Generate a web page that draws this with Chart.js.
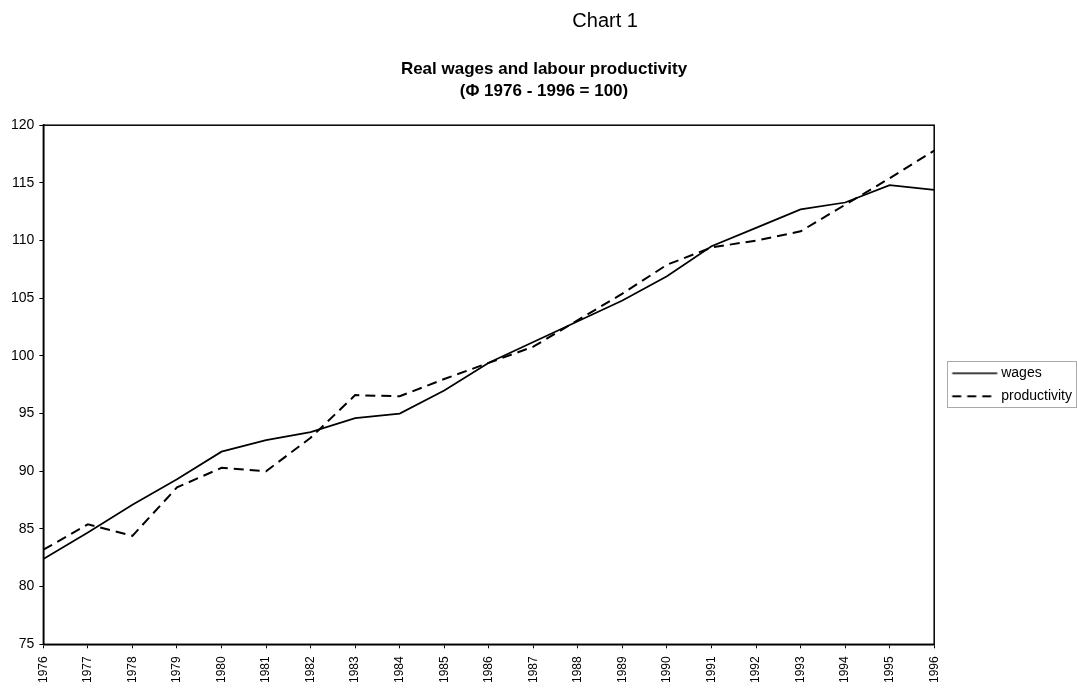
<!DOCTYPE html>
<html>
<head>
<meta charset="utf-8">
<script src="https://cdn.jsdelivr.net/npm/chart.js@4/dist/chart.umd.min.js"></script>
<style>
  html, body { margin: 0; padding: 0; background: #fff; }
  #wrap { width: 1077px; height: 688px; }
</style>
</head>
<body>
<div id="wrap"><canvas id="chart" width="1077" height="688"></canvas></div>
<script>
// values (index, average 1976-1996 = 100)
const years = ["1976", "1977", "1978", "1979", "1980", "1981", "1982", "1983", "1984", "1985", "1986",
  "1987", "1988", "1989", "1990", "1991", "1992", "1993", "1994", "1995", "1996"];
const wages = [82.4, 84.7, 87.1, 89.3, 91.7, 92.7, 93.4, 94.6, 95.0, 97.0, 99.4,
  101.2, 103.0, 104.8, 106.9, 109.5, 111.1, 112.7, 113.3, 114.8, 114.4];
const productivity = [83.2, 85.4, 84.4, 88.6, 90.3, 90.0, 92.9, 96.6, 96.5, 98.0, 99.4,
  100.8, 103.1, 105.4, 107.9, 109.4, 110.0, 110.8, 113.1, 115.4, 117.8];

const FONT = "'Liberation Sans', Arial, sans-serif";
const DASH = [10, 6];

// little legend samples: the line sits right of the image centre
function sample(dash, width) {
  const c = document.createElement("canvas");
  c.width = 80;
  c.height = 6;
  const g = c.getContext("2d");
  g.strokeStyle = "#000";
  g.lineWidth = width;
  g.setLineDash(dash);
  g.beginPath();
  g.moveTo(23.5, 3);
  g.lineTo(68.5, 3);
  g.stroke();
  return c;
}

// box round the plot and round the legend, as in the original
const frames = {
  id: "frames",
  afterDraw(chart) {
    const ctx = chart.ctx;
    const a = chart.chartArea;
    ctx.save();
    ctx.strokeStyle = "#000";
    ctx.lineWidth = 1.5;
    ctx.strokeRect(a.left, a.top, a.right - a.left, a.bottom - a.top);

    const boxes = chart.legend.legendHitBoxes;
    if (boxes && boxes.length) {
      const top = Math.min(...boxes.map(b => b.top)) - 5;
      const bottom = Math.max(...boxes.map(b => b.top + b.height)) + 4;
      const left = Math.min(...boxes.map(b => b.left)) + 4;
      ctx.lineWidth = 1;
      ctx.strokeStyle = "#555";
      ctx.setLineDash([1, 1]);
      ctx.strokeRect(Math.round(left) + 0.5, Math.round(top) + 0.5, chart.width - Math.round(left) - 1, Math.round(bottom - top));
    }
    ctx.restore();
  }
};

new Chart(document.getElementById("chart"), {
  type: "line",
  data: {
    labels: years,
    datasets: [
      {
        label: "wages",
        data: wages,
        borderColor: "#000",
        backgroundColor: "#000",
        borderWidth: 1.7,
        pointRadius: 0,
        pointStyle: sample([], 1.6),
        tension: 0,
        fill: false
      },
      {
        label: "productivity",
        data: productivity,
        borderColor: "#000",
        backgroundColor: "#000",
        borderWidth: 2,
        borderDash: DASH,
        pointRadius: 0,
        pointStyle: sample([9, 6], 2),
        tension: 0,
        fill: false
      }
    ]
  },
  options: {
    responsive: false,
    animation: false,
    layout: { padding: { left: 6, right: -5, top: 0, bottom: -3 } },
    plugins: {
      title: {
        display: true,
        text: "                      Chart 1",
        color: "#000",
        font: { family: FONT, size: 20, weight: "normal", lineHeight: 1.2 },
        padding: { top: 9, bottom: 25 }
      },
      subtitle: {
        display: true,
        text: ["Real wages and labour productivity", "(\u03A6 1976 - 1996 = 100)"],
        color: "#000",
        font: { family: FONT, size: 17, weight: "bold", lineHeight: 1.3 },
        padding: { top: 0, bottom: 23 }
      },
      legend: {
        position: "right",
        align: "center",
        fullSize: false,
        labels: {
          color: "#000",
          font: { family: FONT, size: 14 },
          usePointStyle: true,
          pointStyleWidth: 51,
          padding: 9
        }
      },
      tooltip: { enabled: false }
    },
    scales: {
      x: {
        offset: false,
        grid: { drawOnChartArea: false, drawTicks: true, tickLength: 4, color: "#000" },
        border: { display: true, color: "#000", width: 1.5 },
        ticks: {
          color: "#000",
          font: { family: FONT, size: 12 },
          minRotation: 90,
          maxRotation: 90,
          autoSkip: false,
          padding: 8
        }
      },
      y: {
        min: 75,
        max: 120,
        grid: { drawOnChartArea: false, drawTicks: true, tickLength: 4, color: "#000" },
        border: { display: true, color: "#000", width: 1.5 },
        ticks: {
          stepSize: 5,
          color: "#000",
          font: { family: FONT, size: 14 },
          padding: 5
        }
      }
    }
  },
  plugins: [frames]
});
</script>
</body>
</html>
